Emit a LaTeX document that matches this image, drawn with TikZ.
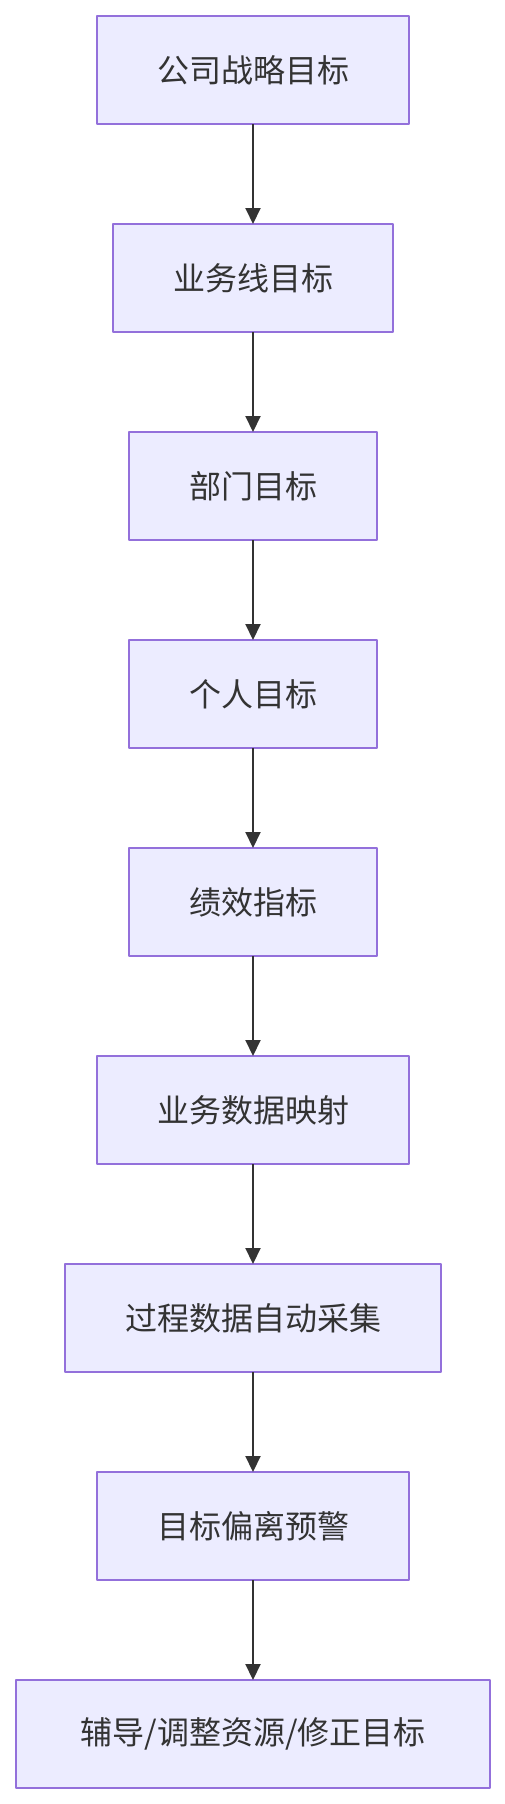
\documentclass[tikz,border=0pt]{standalone}
\usepackage{fontspec}
\newfontfamily\cjk{Noto Sans CJK SC}
\usetikzlibrary{positioning,arrows.meta}
\definecolor{boxfill}{HTML}{ECECFF}
\definecolor{boxline}{HTML}{9370DB}
\definecolor{ink}{HTML}{333333}
\begin{document}
\begin{tikzpicture}[x=1pt, y=1pt, line join=round, >={Triangle[width=15pt,length=16pt]},
		goal/.style={draw=boxline, fill=boxfill, line width=1.5pt, outer sep=0pt, minimum height=108pt, inner xsep=60pt, text=ink, font=\cjk\fontsize{32pt}{38pt}\selectfont},
		node distance=100pt]
	\useasboundingbox (0,0) rectangle (505,-1804);
	\node[goal] (corp) at (253,-70) {公司战略目标};
	\node[goal, below=of corp] (line) {业务线目标};
	\node[goal, below=of line] (dept) {部门目标};
	\node[goal, below=of dept] (pers) {个人目标};
	\node[goal, below=of pers] (kpi) {绩效指标};
	\node[goal, below=of kpi] (map) {业务数据映射};
	\node[goal, below=of map] (collect) {过程数据自动采集};
	\node[goal, below=of collect] (warn) {目标偏离预警};
	\node[goal, below=of warn, minimum width=474pt] (fix) {辅导/调整资源/修正目标};
	\foreach \a/\b in {corp/line, line/dept, dept/pers, pers/kpi, kpi/map, map/collect, collect/warn, warn/fix}{\draw[->, ink, line width=2pt] (\a) -- (\b);};
\end{tikzpicture}
\end{document}
